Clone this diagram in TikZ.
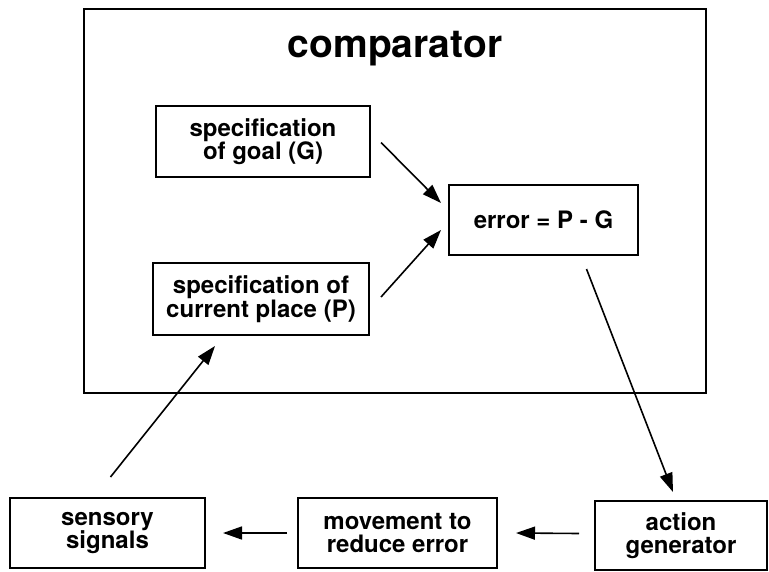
\documentclass[tikz,border=0pt]{standalone}
\usepackage{fontspec}
\setmainfont{TeX Gyre Heros}
\usetikzlibrary{arrows.meta,calc}
\newcommand{\lbl}[0]{\fontsize{24}{23.5}\selectfont\bfseries}
\newcommand{\ttl}[0]{\fontsize{39}{40}\selectfont\bfseries}
\tikzset{
	box/.style={draw, line width=2pt, align=center, font=\lbl, inner sep=0pt},
	arr/.style={line width=1.6pt, -{Triangle[length=19pt,width=13pt]}}
}

\begin{document}
\begin{tikzpicture}[x=1pt, y=-1pt]
	\useasboundingbox (0,0) rectangle (769,571);
%The comparator
	\node[box, minimum width=622, minimum height=384] (comp) at (395,201) {};
	\node[font=\ttl] (title) at (395,49) {comparator};
	\node[box, minimum width=214, minimum height=71] (goal) at (263,141.5) {specification\\of goal (G)};
	\node[box, minimum width=216, minimum height=72] (place) at (261,299) {specification of\\current place (P)};
	\node[box, minimum width=189, minimum height=70] (err) at (543.5,220) {error = P - G};
%Bottom row
	\node[box, minimum width=195, minimum height=70] (sense) at (107.5,533) {sensory\\signals};
	\node[box, minimum width=199, minimum height=70] (move) at (397.5,533) {movement to\\reduce error};
	\node[box, minimum width=172, minimum height=69] (action) at (681,535.5) {action\\generator};
%Arrows
	\draw[arr] ($(goal.east)+(10,1)$) -- ($(err.west)+(-7,-17)$);
	\draw[arr] ($(place.east)+(11,-2)$) -- ($(err.west)+(-7,10)$);
	\draw[arr] ($(err.south)+(43,13)$) -- ($(action.north)+(-8,-8)$);
	\draw[arr] ($(action.west)+(-15,-2)$) -- ($(move.east)+(18,0)$);
	\draw[arr] ($(move.west)+(-10,0)$) -- ($(sense.east)+(17,0)$);
	\draw[arr] ($(sense.north)+(3,-20)$) -- ($(place.south)+(-46,10)$);
\end{tikzpicture}
\end{document}
